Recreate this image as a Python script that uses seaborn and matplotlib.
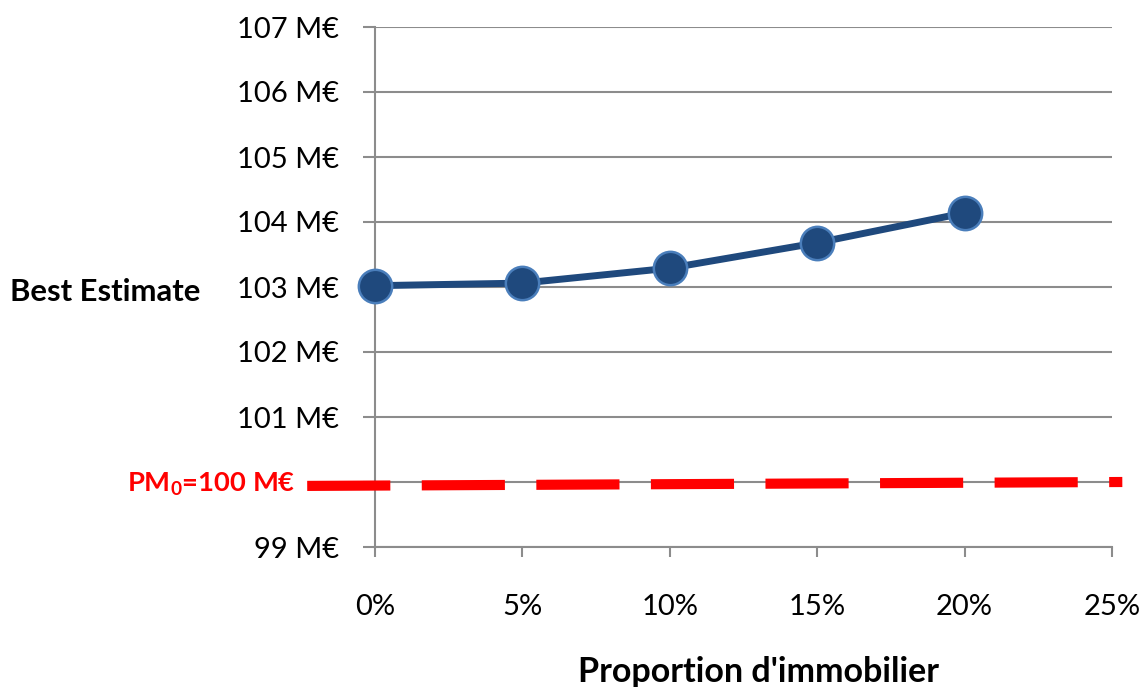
import matplotlib
matplotlib.use("Agg")
import matplotlib.pyplot as plt
import seaborn as sns
import pandas as pd

# Data
proportions = [0, 5, 10, 15, 20]           # % d'immobilier
best_estimate = [103.02, 103.06, 103.29, 103.68, 104.14]  # M€
pm_x = [-2.3, 25.35]
pm_y = [99.94, 100.0]
x_ticks = [0, 5, 10, 15, 20, 25]
x_ticklabels = ["0%", "5%", "10%", "15%", "20%", "25%"]
y_ticks = [99, 100, 101, 102, 103, 104, 105, 106, 107]
y_ticklabels = ["99 M€", "", "101 M€", "102 M€", "103 M€", "104 M€", "105 M€", "106 M€", "107 M€"]

sns.set_style("white")
plt.rcParams['font.family'] = ['Lato', 'DejaVu Sans']
plt.rcParams['text.color'] = 'black'
plt.rcParams['xtick.labelcolor'] = 'black'
plt.rcParams['ytick.labelcolor'] = 'black'
plt.rcParams['axes.labelcolor'] = 'black'
plt.rcParams['mathtext.fontset'] = 'custom'
plt.rcParams['mathtext.rm'] = 'Lato:bold'
plt.rcParams['mathtext.bf'] = 'Lato:bold'
plt.rcParams['mathtext.default'] = 'bf'

fig = plt.figure(figsize=(11.45, 6.87), dpi=100)
ax = fig.add_axes([375/1145, 1-547/687, (1112-375)/1145, 520/687])

df = pd.DataFrame({"x": proportions, "y": best_estimate})
df_pm = pd.DataFrame({"x": pm_x, "y": pm_y})

sns.lineplot(data=df_pm, x="x", y="y", ax=ax, color="#FF0000", linewidth=7.3,
             dashes=False, clip_on=False, zorder=3)
ax.lines[-1].set_dashes([8.2, 3.1])
ax.lines[-1].set_dash_capstyle("butt")

sns.lineplot(data=df, x="x", y="y", ax=ax, color="#1F497D", linewidth=5,
             marker="o", markersize=24, markerfacecolor="#1F497D",
             markeredgecolor="#4A7EBB", markeredgewidth=1.8, zorder=4, clip_on=False)

ax.set_xlim(0, 25)
ax.set_ylim(99, 107)
ax.set_xticks(x_ticks)
ax.set_xticklabels(x_ticklabels)
ax.set_yticks(y_ticks)
ax.set_yticklabels(y_ticklabels)

ax.grid(axis="y", color="#8C8C8C", linewidth=1.5)
ax.grid(axis="x", visible=False)
for s in ["top", "right"]:
    ax.spines[s].set_visible(False)
for s in ["left", "bottom"]:
    ax.spines[s].set_color("#8C8C8C")
    ax.spines[s].set_linewidth(1.5)

ax.tick_params(axis="y", direction="out", length=9, width=1.5, color="#8C8C8C",
               pad=17, labelsize=21, left=True, labelcolor="black")
ax.tick_params(axis="x", direction="out", length=7, width=1.5, color="#8C8C8C",
               pad=27, labelsize=21, bottom=True, labelcolor="black")

ax.set_xlabel("Proportion d'immobilier", fontsize=24.5, fontweight="bold", color="black")
ax.xaxis.set_label_coords(0.52, -0.24)
ax.xaxis.label.set_va("center")
ax.set_ylabel("Best Estimate", fontsize=22.3, fontweight="bold", rotation=0, color="black")
ax.yaxis.set_label_coords(-0.366, 0.49)
ax.yaxis.label.set_va("center")
ax.yaxis.label.set_ha("center")

ax.text(-0.108, 99.96, r"PM$_0$=100 M€", transform=ax.get_yaxis_transform(),
        color="#FF0000", fontsize=19.7, fontweight="bold", ha="right", va="center")

fig.savefig("out.png", dpi=100)
